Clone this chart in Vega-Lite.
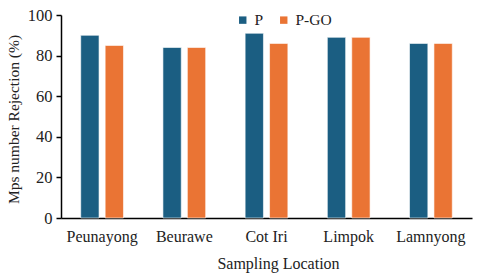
{
  "$schema": "https://vega.github.io/schema/vega-lite/v6.json",
  "autosize": "none",
  "width": 411,
  "height": 203,
  "padding": {"left": 61, "top": 15, "right": 8, "bottom": 58},
  "background": "white",
  "config": {
    "view": {"stroke": null},
    "font": "'Times New Roman', 'Liberation Serif', serif"
  },
  "data": {
    "values": [
      {"loc": "Peunayong", "type": "P", "value": 90},
      {"loc": "Peunayong", "type": "P-GO", "value": 85},
      {"loc": "Beurawe", "type": "P", "value": 84},
      {"loc": "Beurawe", "type": "P-GO", "value": 84},
      {"loc": "Cot Iri", "type": "P", "value": 91},
      {"loc": "Cot Iri", "type": "P-GO", "value": 86},
      {"loc": "Limpok", "type": "P", "value": 89},
      {"loc": "Limpok", "type": "P-GO", "value": 89},
      {"loc": "Lamnyong", "type": "P", "value": 86},
      {"loc": "Lamnyong", "type": "P-GO", "value": 86}
    ]
  },
  "mark": {"type": "bar", "stroke": "white", "strokeWidth": 0.6},
  "encoding": {
    "x": {
      "field": "loc",
      "type": "nominal",
      "sort": ["Peunayong", "Beurawe", "Cot Iri", "Limpok", "Lamnyong"],
      "scale": {"paddingInner": 0.48, "paddingOuter": 0.24},
      "axis": {
        "title": "Sampling Location",
        "titleFont": "'Times New Roman', 'Liberation Serif', serif",
        "titleFontSize": 16,
        "titleFontWeight": "normal",
        "titleColor": "#222",
        "titleX": 217,
        "titleY": 45,
        "titleAlign": "center",
        "titleBaseline": "middle",
        "labelFont": "'Times New Roman', 'Liberation Serif', serif",
        "labelFontSize": 16,
        "labelColor": "#222",
        "labelAngle": 0,
        "labelPadding": 10,
        "ticks": false,
        "domainColor": "black",
        "domainWidth": 1.5
      }
    },
    "xOffset": {
      "field": "type",
      "type": "nominal",
      "scale": {"paddingInner": 0.25, "paddingOuter": 0}
    },
    "y": {
      "field": "value",
      "type": "quantitative",
      "scale": {"domain": [0, 100]},
      "axis": {
        "title": "Mps number Rejection (%)",
        "titleFont": "'Times New Roman', 'Liberation Serif', serif",
        "titleFontSize": 15.5,
        "titleFontWeight": "normal",
        "titleColor": "#222",
        "titleAngle": -90,
        "titleX": -48,
        "titleY": 104,
        "titleAlign": "center",
        "titleBaseline": "middle",
        "values": [0, 20, 40, 60, 80, 100],
        "grid": false,
        "labelFont": "'Times New Roman', 'Liberation Serif', serif",
        "labelFontSize": 16.5,
        "labelColor": "#222",
        "labelPadding": 4,
        "tickSize": 5,
        "tickColor": "black",
        "tickWidth": 1.5,
        "domainColor": "black",
        "domainWidth": 1.5
      }
    },
    "color": {
      "field": "type",
      "type": "nominal",
      "scale": {"domain": ["P", "P-GO"], "range": ["#1B5E82", "#EA7434"]},
      "legend": {
        "title": null,
        "orient": "none",
        "direction": "horizontal",
        "legendX": 174,
        "legendY": -3,
        "symbolType": "square",
        "symbolSize": 55,
        "symbolStrokeWidth": 0,
        "labelFont": "'Times New Roman', 'Liberation Serif', serif",
        "labelFontSize": 15.5,
        "labelColor": "#222",
        "labelOffset": 4,
        "columnPadding": 12
      }
    }
  }
}
